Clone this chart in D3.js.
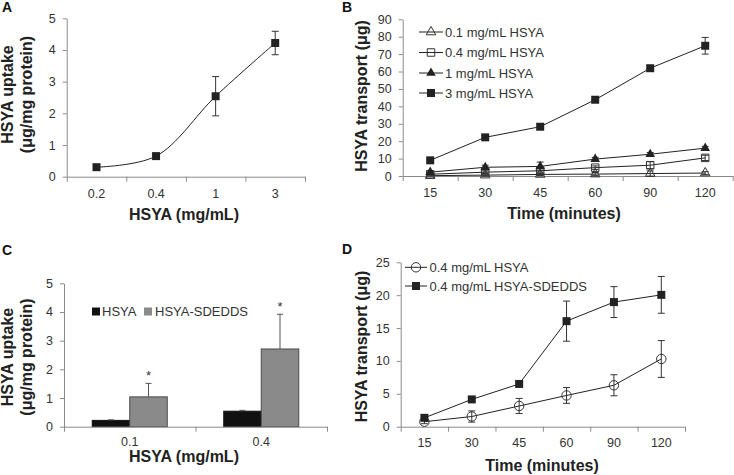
<!DOCTYPE html>
<html>
<head>
<meta charset="utf-8">
<script src="https://cdn.jsdelivr.net/npm/d3@7"></script>
<style>
  html, body { margin: 0; padding: 0; background: #fff; }
  svg { display: block; font-family: "Liberation Sans", Arial, sans-serif; }
  .axis .domain, .axis .tick line { stroke: #8a8a8a; stroke-width: 1; }
  .axis text { fill: #333; font-size: 12.5px; font-family: "Liberation Sans", Arial, sans-serif; }
  .title { font-weight: bold; font-size: 16px; fill: #222; }
  .plabel { font-weight: bold; font-size: 14px; fill: #111; }
  .leg { font-size: 13px; fill: #333; }
</style>
</head>
<body>
<svg id="chart" width="734" height="475"></svg>
<script>
// ---------- DATA ----------
// Panel A
const catsA = ["0.2", "0.4", "1", "3"];
const uptakeA = [0.30, 0.65, 2.54, 4.22];
const errA = [0.03, 0.05, 0.62, 0.37];

// Panel B / D time labels
const timeLabels = ["15", "30", "45", "60", "90", "120"];

// Panel B series
const seriesNamesB = ["0.1 mg/mL HSYA", "0.4 mg/mL HSYA", "1 mg/mL HSYA", "3 mg/mL HSYA"];
const b01 = [0.2, 0.5, 0.9, 1.1, 1.4, 1.7];
const b04 = [1.0, 2.2, 3.0, 4.8, 6.2, 10.4];
const b1  = [2.2, 5.0, 5.5, 9.7, 12.5, 16.0];
const b3  = [9.0, 22.2, 28.3, 43.8, 61.9, 74.8];
const e01 = [0.3, 0.5, 0.6, 0.9, 1.5, 0.8];
const e04 = [0.5, 0.8, 1.2, 1.0, 2.0, 1.5];
const e1  = [0.8, 1.2, 2.5, 1.0, 1.0, 1.0];
const e3  = [1.0, 1.0, 1.5, 1.0, 1.5, 4.8];

// Panel C
const catsC = ["0.1", "0.4"];
const seriesNamesC = ["HSYA", "HSYA-SDEDDS"];
const hsyaC = [0.22, 0.54];
const sdeddsC = [1.04, 2.71];
const errHsyaC = [0.02, 0.03];
const errSdeddsC = [0.47, 1.21];

// Panel D
const seriesNamesD = ["0.4 mg/mL HSYA", "0.4 mg/mL HSYA-SDEDDS"];
const dHsya = [0.76, 1.55, 3.15, 4.75, 6.3, 10.3];
const errDHsya = [0.3, 0.85, 1.15, 1.2, 1.6, 2.8];
const dSd = [1.35, 4.15, 6.5, 16.05, 18.95, 20.05];
const errDSd = [0.3, 0.3, 0.3, 3.05, 2.35, 2.8];

// ---------- DRAWING ----------
const svg = d3.select("#chart");
const LINE = "#222";

function yAxisDraw(g, y, x0, ticks) {
  g.append("g").attr("class", "axis")
    .attr("transform", `translate(${x0},0)`)
    .call(d3.axisLeft(y).tickValues(ticks).tickFormat(d3.format("d"))
      .tickSize(4).tickSizeOuter(0).tickPadding(7));
}
function xAxisDraw(g, xBand, yAxisPos, pad) {
  const n = xBand.domain().length;
  const r = xBand.range();
  const xl = d3.scaleLinear().domain([0, n]).range(r);
  g.append("g").attr("class", "axis")
    .attr("transform", `translate(0,${yAxisPos})`)
    .call(d3.axisBottom(xl).tickValues(d3.range(n + 1)).tickFormat("").tickSize(5).tickSizeOuter(0));
  const lab = g.append("g").attr("class", "axis")
    .attr("transform", `translate(0,${yAxisPos})`)
    .call(d3.axisBottom(xBand).tickSize(0).tickPadding(pad));
  lab.select(".domain").remove();
}
function yTitle(lines, xs, cy) {
  lines.forEach((t, i) => {
    svg.append("text").attr("class", "title")
      .attr("transform", `translate(${xs[i]},${cy}) rotate(-90)`)
      .attr("text-anchor", "middle").text(t);
  });
}
function xTitle(t, cx, by) {
  svg.append("text").attr("class", "title").attr("x", cx).attr("y", by)
    .attr("text-anchor", "middle").text(t);
}
function panelLabel(t, x, y) {
  svg.append("text").attr("class", "plabel").attr("x", x).attr("y", y).text(t);
}
function errBars(g, xs, vals, errs, y, cap, color, upOnly) {
  vals.forEach((v, i) => {
    const x = xs[i];
    const yt = y(v + errs[i]);
    const yb = upOnly ? y(v) : y(v - errs[i]);
    g.append("line").attr("x1", x).attr("x2", x).attr("y1", yt).attr("y2", yb)
      .attr("stroke", color).attr("stroke-width", 1);
    g.append("line").attr("x1", x - cap).attr("x2", x + cap).attr("y1", yt).attr("y2", yt)
      .attr("stroke", color).attr("stroke-width", 1);
    if (!upOnly) {
      g.append("line").attr("x1", x - cap).attr("x2", x + cap).attr("y1", yb).attr("y2", yb)
        .attr("stroke", color).attr("stroke-width", 1);
    }
  });
}
function marker(g, type, x, y) {
  const sym = {
    sqFill: [d3.symbolSquare, 64, LINE, "none"],
    sqOpen: [d3.symbolSquare, 56, "none", "#333"],
    triFill: [d3.symbolTriangle, 40, LINE, "none"],
    triOpen: [d3.symbolTriangle, 40, "none", "#333"],
    circOpen: [d3.symbolCircle, 70, "none", "#333"]
  }[type];
  g.append("path").attr("d", d3.symbol().type(sym[0]).size(sym[1])())
    .attr("transform", `translate(${x},${y})`)
    .attr("fill", sym[2]).attr("stroke", sym[3]).attr("stroke-width", 1);
}

// ===== Panel A =====
(function () {
  const g = svg.append("g");
  const x = d3.scaleBand().domain(catsA).range([66.7, 305]);
  const y = d3.scaleLinear().domain([0, 5]).range([176.7, 18.3]);
  yAxisDraw(g, y, 66.7, d3.range(0, 6));
  xAxisDraw(g, x, 176.7, 12);
  const cx = catsA.map(c => x(c) + x.bandwidth() / 2);
  const pts = uptakeA.map((v, i) => [cx[i], y(v)]);
  g.append("path").attr("d", d3.line().curve(d3.curveCatmullRom.alpha(0.5))(pts))
    .attr("fill", "none").attr("stroke", LINE).attr("stroke-width", 1);
  errBars(g, cx, uptakeA, errA, y, 3.5, "#333", false);
  pts.forEach(p => marker(g, "sqFill", p[0], p[1]));
  yTitle(["HSYA uptake", "(μg/mg protein)"], [12.5, 32], 94.5);
  xTitle("HSYA (mg/mL)", 184, 220);
  panelLabel("A", 2, 12);
})();

// ===== Panel B =====
(function () {
  const g = svg.append("g");
  const x = d3.scaleBand().domain(timeLabels).range([402.7, 732.7]);
  const y = d3.scaleLinear().domain([0, 90]).range([176, 19.3]);
  yAxisDraw(g, y, 402.7, d3.range(0, 91, 10));
  xAxisDraw(g, x, 176, 12);
  const cx = timeLabels.map(c => x(c) + x.bandwidth() / 2);
  const series = [
    [b01, e01, "triOpen"], [b04, e04, "sqOpen"], [b1, e1, "triFill"], [b3, e3, "sqFill"]
  ];
  const line = d3.line();
  series.forEach(s => {
    g.append("path").attr("d", line(s[0].map((v, i) => [cx[i], y(v)])))
      .attr("fill", "none").attr("stroke", LINE).attr("stroke-width", 1);
  });
  series.forEach(s => errBars(g, cx, s[0], s[1], y, 3.5, "#333", false));
  series.forEach(s => s[0].forEach((v, i) => marker(g, s[2], cx[i], y(v))));
  // legend
  const ly = [32, 52.5, 73, 93];
  series.forEach((s, i) => {
    g.append("line").attr("x1", 419).attr("x2", 443).attr("y1", ly[i]).attr("y2", ly[i])
      .attr("stroke", LINE).attr("stroke-width", 1);
    marker(g, s[2], 431, ly[i]);
    g.append("text").attr("class", "leg").attr("x", 445).attr("y", ly[i] + 4.5).text(seriesNamesB[i]);
  });
  yTitle(["HSYA transport (μg)"], [367], 96);
  xTitle("Time (minutes)", 564, 219);
  panelLabel("B", 342, 12);
})();

// ===== Panel C =====
(function () {
  const g = svg.append("g");
  const x = d3.scaleBand().domain(catsC).range([64, 327]);
  const y = d3.scaleLinear().domain([0, 5]).range([426.7, 283.3]);
  const bw = 37.5;
  const cxC = catsC.map(c => x(c) + x.bandwidth() / 2);
  const blackX = cxC.map(c => c - bw);
  const grayX = cxC.map(c => c);
  hsyaC.forEach((v, i) => {
    g.append("rect").attr("x", blackX[i]).attr("y", y(v)).attr("width", bw).attr("height", y(0) - y(v))
      .attr("fill", "#111").attr("stroke", "#111");
  });
  sdeddsC.forEach((v, i) => {
    g.append("rect").attr("x", grayX[i]).attr("y", y(v)).attr("width", bw).attr("height", y(0) - y(v))
      .attr("fill", "#8a8a8a").attr("stroke", "#4a4a4a");
  });
  errBars(g, blackX.map(v => v + bw / 2), hsyaC, errHsyaC, y, 3, "#555", true);
  errBars(g, grayX.map(v => v + bw / 2), sdeddsC, errSdeddsC, y, 3, "#555", true);
  sdeddsC.forEach((v, i) => {
    g.append("text").attr("x", grayX[i] + bw / 2).attr("y", y(v + errSdeddsC[i]) - 3)
      .attr("text-anchor", "middle").attr("font-size", 13).attr("fill", "#333").text("*");
  });
  yAxisDraw(g, y, 64, d3.range(0, 6));
  xAxisDraw(g, x, 426.7, 10);
  // legend
  g.append("rect").attr("x", 92).attr("y", 307.5).attr("width", 8).attr("height", 8).attr("fill", "#111");
  g.append("text").attr("class", "leg").attr("x", 102).attr("y", 316).text(seriesNamesC[0]);
  g.append("rect").attr("x", 144).attr("y", 307.5).attr("width", 8).attr("height", 8).attr("fill", "#8a8a8a");
  g.append("text").attr("class", "leg").attr("x", 155).attr("y", 316).text(seriesNamesC[1]);
  yTitle(["HSYA uptake", "(μg/mg protein)"], [12.5, 32], 357);
  xTitle("HSYA (mg/mL)", 184, 462);
  panelLabel("C", 2, 255);
})();

// ===== Panel D =====
(function () {
  const g = svg.append("g");
  const x = d3.scaleBand().domain(timeLabels).range([400.7, 685]);
  const y = d3.scaleLinear().domain([0, 25]).range([426.7, 262.3]);
  yAxisDraw(g, y, 400.7, d3.range(0, 26, 5));
  xAxisDraw(g, x, 426.7, 11);
  const cx = timeLabels.map(c => x(c) + x.bandwidth() / 2);
  const series = [[dHsya, errDHsya, "circOpen"], [dSd, errDSd, "sqFill"]];
  const line = d3.line();
  series.forEach(s => {
    g.append("path").attr("d", line(s[0].map((v, i) => [cx[i], y(v)])))
      .attr("fill", "none").attr("stroke", LINE).attr("stroke-width", 1);
  });
  series.forEach(s => errBars(g, cx, s[0], s[1], y, 3.5, "#333", false));
  series.forEach(s => s[0].forEach((v, i) => marker(g, s[2], cx[i], y(v))));
  const ly = [267.3, 286];
  series.forEach((s, i) => {
    g.append("line").attr("x1", 405).attr("x2", 427).attr("y1", ly[i]).attr("y2", ly[i])
      .attr("stroke", LINE).attr("stroke-width", 1);
    marker(g, s[2], 416, ly[i]);
    g.append("text").attr("class", "leg").attr("x", 429.5).attr("y", ly[i] + 4.5).text(seriesNamesD[i]);
  });
  yTitle(["HSYA transport (μg)"], [367], 346.5);
  xTitle("Time (minutes)", 542, 471);
  panelLabel("D", 342, 254);
})();
</script>
</body>
</html>
